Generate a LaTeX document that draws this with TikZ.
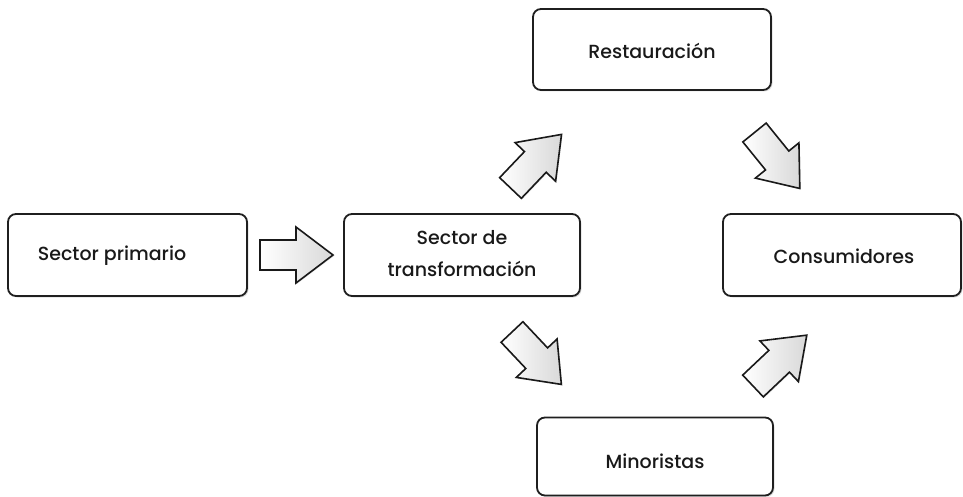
\documentclass[tikz,border=0pt]{standalone}
\usepackage{fontspec}
\setmainfont{Poppins}[UprightFont={* Medium}]
\usetikzlibrary{shadows}
\begin{document}
\begin{tikzpicture}[x=1pt,y=-1pt,
  box/.style={draw=black!88, line width=1.8pt, rounded corners=8pt, fill=white,
    drop shadow={shadow xshift=1.5pt, shadow yshift=-1.5pt, opacity=0.25, fill=black!50}},
  lbl/.style={font=\fontsize{19}{26}\selectfont, text=black!90, align=center},
  blockarrow/.style={draw=black!90, line width=1.6pt, line join=miter,
    left color=white, right color=black!15,
    drop shadow={shadow xshift=1pt, shadow yshift=-1pt, opacity=0.2, fill=black!50}},
  pics/barrow/.style={code={
    \path[blockarrow] (0,-15) -- (36,-15) -- (36,-28) -- (#1,0) -- (36,28) -- (36,15) -- (0,15) -- cycle;
  }}]
\useasboundingbox (0,0) rectangle (963,497);
% boxes
\node[box, minimum width=239pt, minimum height=82pt] (prim) at (127.5,255) {};
\node[lbl] (primt) at (112,256) {Sector primario};
\node[box, minimum width=236pt, minimum height=82pt] (trans) at (462,255) {};
\node[lbl] (transt) at (462,254) {Sector de\\[6pt] transformación};
\node[box, minimum width=238pt, minimum height=81pt] (rest) at (652,49.5) {};
\node[lbl] (restt) at (652,51) {Restauración};
\node[box, minimum width=238pt, minimum height=82pt] (cons) at (842,255) {};
\node[lbl] (const) at (844,256) {Consumidores};
\node[box, minimum width=236pt, minimum height=78pt] (mino) at (655,456.5) {};
\node[lbl] (minot) at (655,461) {Minoristas};
% arrows
\coordinate (a1) at (260,255);
\coordinate (a2) at (510.5,188);
\coordinate (a3) at (512,332);
\coordinate (a4) at (754.5,132.5);
\coordinate (a5) at (753,386);
\pic at (a1) {barrow=73};
\pic[rotate=46.4] at (a2) {barrow=74};
\pic[rotate=-46.7] at (a3) {barrow=72};
\pic[rotate=-51] at (a4) {barrow=72};
\pic[rotate=43.4] at (a5) {barrow=74};
\end{tikzpicture}
\end{document}
